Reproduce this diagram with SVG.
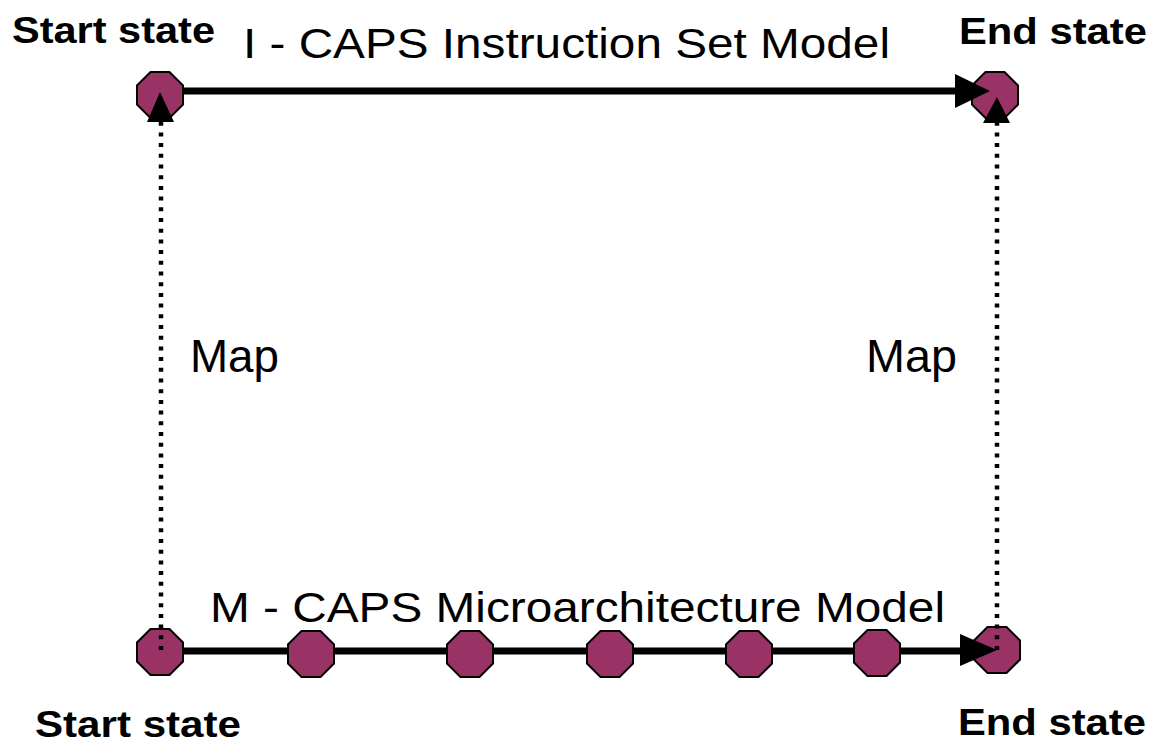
<svg xmlns="http://www.w3.org/2000/svg" width="1151" height="745" viewBox="0 0 1151 745">
<defs>
<style>
.oct{fill:#993366;stroke:#000;stroke-width:2}
.solid{stroke:#000;stroke-width:7;fill:none}
.dot{stroke:#000;stroke-width:4.5;stroke-dasharray:4 6.7;fill:none}
.head{fill:#000}
.b{font-family:"Liberation Sans",Arial,sans-serif;font-weight:bold;font-size:36px;fill:#000}
.t{font-family:"Liberation Sans",Arial,sans-serif;font-size:42px;fill:#000}
.m{font-family:"Liberation Sans",Arial,sans-serif;font-size:46px;fill:#000}
</style>
<polygon id="octShape" class="oct" points="-9.5,-23 9.5,-23 23,-9.5 23,9.5 9.5,23 -9.5,23 -23,9.5 -23,-9.5"/>
</defs>
<rect width="1151" height="745" fill="#fff"/>
<g id="start-I"><use href="#octShape" x="160" y="95"/></g>
<g id="end-I"><use href="#octShape" x="995" y="95"/></g>
<g id="start-M"><use href="#octShape" x="160" y="652"/></g>
<g id="end-M"><use href="#octShape" x="997" y="650"/></g>
<g id="connectors">
<line class="solid" x1="183" y1="91" x2="960" y2="91"/>
<polygon class="head" points="990,91 955,74 955,108"/>
<line class="solid" x1="183" y1="651" x2="965" y2="651"/>
<polygon class="head" points="997,650 960,634 960,666"/>
<line class="dot" x1="161" y1="650" x2="161" y2="120"/>
<polygon class="head" points="160,92 147,122 174,122"/>
<line class="dot" x1="997" y1="650" x2="997" y2="120"/>
<polygon class="head" points="997,97 983,123 1010,123"/>
</g>
<g id="m1"><use href="#octShape" x="311" y="654"/></g>
<g id="m2"><use href="#octShape" x="470" y="654"/></g>
<g id="m3"><use href="#octShape" x="610" y="654"/></g>
<g id="m4"><use href="#octShape" x="749" y="654"/></g>
<g id="m5"><use href="#octShape" x="877" y="653"/></g>
<g id="labels">
<text class="b" x="12" y="43" textLength="203" lengthAdjust="spacingAndGlyphs">Start state</text>
<text class="b" x="959" y="44" textLength="188" lengthAdjust="spacingAndGlyphs">End state</text>
<text class="b" x="35" y="737" textLength="206" lengthAdjust="spacingAndGlyphs">Start state</text>
<text class="b" x="958" y="735" textLength="188" lengthAdjust="spacingAndGlyphs">End state</text>
<text class="t" x="243" y="58" textLength="647" lengthAdjust="spacingAndGlyphs">I - CAPS Instruction Set Model</text>
<text class="t" x="210" y="622" textLength="735" lengthAdjust="spacingAndGlyphs">M - CAPS Microarchitecture Model</text>
<text class="m" x="190" y="372" textLength="89" lengthAdjust="spacingAndGlyphs">Map</text>
<text class="m" x="866" y="372" textLength="91" lengthAdjust="spacingAndGlyphs">Map</text>
</g>
</svg>
